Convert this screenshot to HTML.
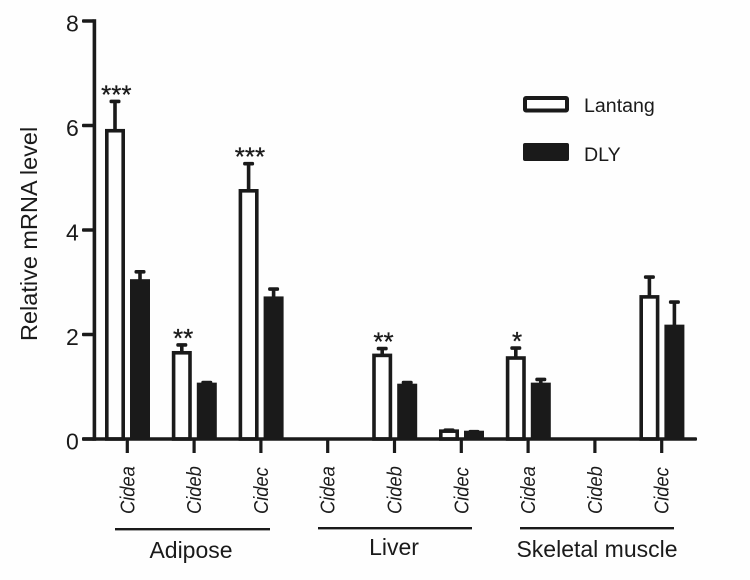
<!DOCTYPE html>
<html lang="en">
<head>
<meta charset="utf-8">
<title>Relative mRNA level</title>
<style>
html,body{margin:0;padding:0;background:#fefefe;}
svg{display:block;font-family:"Liberation Sans",sans-serif;fill:#1a1a1a;}
</style>
</head>
<body>
<svg id="chart" width="750" height="580" viewBox="0 0 750 580" xmlns="http://www.w3.org/2000/svg">
  <rect x="0" y="0" width="750" height="580" fill="#fefefe"/>
  <text transform="translate(37,341) rotate(-90)" font-size="23.5">Relative mRNA level</text>
  <g id="marks"></g>
  <g id="axes"></g>
  <g>
    <rect x="525" y="98" width="42" height="12.5" rx="1" fill="#fefefe" stroke="#1a1a1a" stroke-width="4"/>
    <text x="584" y="112" font-size="19.6">Lantang</text>
    <rect x="523" y="143" width="46" height="18" rx="2" fill="#1a1a1a"/>
    <text x="584" y="161" font-size="19.6">DLY</text>
  </g>
  <g>
    <rect x="115" y="528" width="155" height="2.4"/>
    <text x="191" y="558" font-size="23" text-anchor="middle">Adipose</text>
    <rect x="318" y="527" width="154" height="2.4"/>
    <text x="394" y="555" font-size="23" text-anchor="middle">Liver</text>
    <rect x="520" y="527" width="154" height="2.4"/>
    <text x="597" y="557" font-size="23" text-anchor="middle">Skeletal muscle</text>
  </g>
</svg>
<script>
const categories = ["Cidea","Cideb","Cidec","Cidea","Cideb","Cidec","Cidea","Cideb","Cidec"];
const lantangValues = [5.9,1.65,4.75,null,1.6,0.15,1.55,null,2.72];
const lantangErrors = [0.56,0.15,0.52,null,0.13,0.02,0.19,null,0.38];
const dlyValues = [3.03,1.05,2.7,null,1.03,0.13,1.05,null,2.16];
const dlyErrors = [0.17,0.03,0.17,null,0.05,0.01,0.09,null,0.46];
const significance = ["***","**","***","","**","","*","",""];
const yTicks = [0,2,4,6,8];

const NS = "http://www.w3.org/2000/svg";
const INK = "#1a1a1a";
const marks = document.getElementById("marks");
const axes = document.getElementById("axes");
const yScale = v => 439 - v * 52.25;
const xScale = i => 127.3 + i * 66.8;

function make(parent, tag, attrs) {
  const el = document.createElementNS(NS, tag);
  for (const k in attrs) el.setAttribute(k, attrs[k]);
  parent.appendChild(el);
  return el;
}

function drawBar(cx, value, err, filled, label) {
  const top = yScale(value), capY = yScale(value + err);
  const stem = make(marks, "rect", {x: cx - 1.8, y: capY, width: 3.6, height: top - capY, fill: INK});
  
  
  const cap = make(marks, "rect", {x: cx - 5.5, y: capY - 1.8, width: 11, height: 3.6, rx: 1.5, fill: INK});
  
  
  const bar = make(marks, "rect", filled
    ? {x: cx - 10, y: top - 1.5, width: 20, height: 439 - top + 1.5, fill: INK}
    : {x: cx - 8.2, y: top, width: 16.4, height: 439 - top, fill: "#fefefe", stroke: INK, "stroke-width": 3.6});
  
  
}

categories.forEach((name, i) => {
  const cx = xScale(i);
  if (lantangValues[i] !== null) drawBar(cx - 12.3, lantangValues[i], lantangErrors[i], false, 'bar-lantang');
  if (dlyValues[i] !== null) drawBar(cx + 12.7, dlyValues[i], dlyErrors[i], true, 'bar-dly');
  if (significance[i] && lantangValues[i] !== null) {
    const star = make(marks, "text", {
      x: cx - 11,
      y: yScale(lantangValues[i] + lantangErrors[i]) + 2,
      "font-size": 26,
      "text-anchor": "middle",
      stroke: INK,
      "stroke-width": 0.3
    });
    
    
    star.textContent = significance[i];
  }
  const tick = make(axes, "rect", {x: cx - 1.6, y: 439, width: 3.2, height: 14, fill: INK});
  
  
  const label = make(axes, "text", {
    transform: "translate(" + (cx + 7) + ",514) rotate(-90) scale(0.89,1)",
    "font-size": 20.6,
    "font-style": "italic"
  });
  
  
  label.textContent = name;
});

const yAxis = make(axes, "rect", {x: 92.6, y: 19.2, width: 3.6, height: 421.6, fill: INK});


const xAxis = make(axes, "rect", {x: 82, y: 437.2, width: 615, height: 3.6, rx: 1, fill: INK});



yTicks.forEach(v => {
  const y = yScale(v);
  const tick = make(axes, "rect", {x: 82, y: y - 1.7, width: 12, height: 3.4, rx: 1, fill: INK});
  
  
  const label = make(axes, "text", {x: 66, y: y + 10.5, "font-size": 23});
  
  
  label.textContent = v;
});
</script>
</body>
</html>
